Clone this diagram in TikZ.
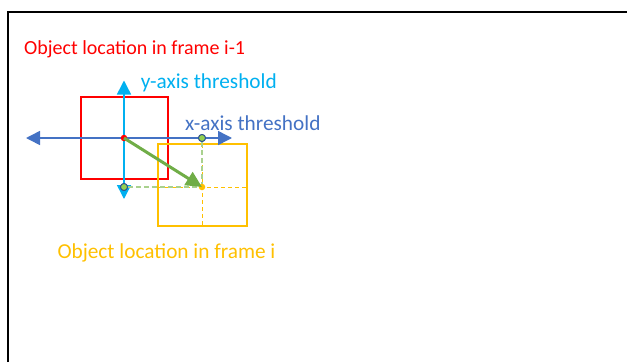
\documentclass[tikz,border=0pt]{standalone}
\usepackage{fontspec}
\setmainfont{Carlito}
\usetikzlibrary{arrows.meta}
\definecolor{offred}{HTML}{FF0000}
\definecolor{offorange}{HTML}{FFC000}
\definecolor{offcyan}{HTML}{00B0F0}
\definecolor{offblue}{HTML}{4472C4}
\definecolor{offgreen}{HTML}{70AD47}
\definecolor{lightgreen}{HTML}{A9D18E}
\definecolor{dotgreen}{HTML}{92D050}
\definecolor{dotedge}{HTML}{2F528F}
\tikzset{
  label text/.style={font=\fontsize{21.3}{24}\selectfont, inner sep=0pt, anchor=base west},
  axis arrow/.style={line width=1.5pt, {Triangle[length=14pt,width=14pt]}-{Triangle[length=14pt,width=14pt]}},
  midline/.style={line width=1pt, dash pattern=on 4pt off 3pt},
  green dot/.style={circle, draw=dotedge, fill=dotgreen, line width=0.9pt, minimum size=7pt, inner sep=0pt},
  plain dot/.style={circle, minimum size=6.5pt, inner sep=0pt},
}
\begin{document}
\begin{tikzpicture}[x=1pt,y=-1pt]
  \useasboundingbox (0,0) rectangle (627,362);
  % slide frame
  \draw[line width=2.5pt, black] (8,362) -- (8,12) -- (627,12);

  % previous and current bounding boxes
  \coordinate (pc) at (124,138);
  \coordinate (cc) at (202,187);
  \draw[offred, line width=2.6pt] (81,97) rectangle (168,179);
  \draw[offred, midline] (81,138) -- (168,138);
  \draw[offorange, line width=2.6pt] (158,144) rectangle (247,226);
  \draw[offorange, midline] (202,144) -- (202,226);
  \draw[offorange, midline] (158,187) -- (247,187);

  % threshold axes
  \coordinate (xl) at (26,138);
  \coordinate (xr) at (232,138);
  \coordinate (yt) at (124,80.5);
  \coordinate (yb) at (124,199);
  \draw[offblue, axis arrow] (xl) -- (xr);
  \draw[offcyan, axis arrow] (yt) -- (yb);

  % projections of the new centre onto the axes
  \node[green dot] (px) at (202,138) {};
  \node[green dot] (py) at (124,187) {};
  \draw[lightgreen, line width=1.5pt, dash pattern=on 5pt off 3pt] (px) -- (cc);
  \draw[lightgreen, line width=1.5pt, dash pattern=on 5pt off 3pt] (py) -- (cc);
  \node[green dot] at (px) {};
  \node[green dot] at (py) {};

  % displacement
  \node[plain dot, fill=offred] (pd) at (pc) {};
  \node[plain dot, fill=offorange] (cd) at (cc) {};
  \draw[offgreen, line width=3pt, -{Triangle[length=16pt,width=15pt]}] (pd.center) -- (cd.center);

  % labels
  \node[label text, text=offred, font=\fontsize{20}{24}\selectfont] (t1) at (24,54.3) {Object location in frame i-1};
  \node[label text, text=offcyan] (t2) at (140.7,88.7) {y-axis threshold};
  \node[label text, text=offblue] (t3) at (185,130) {x-axis threshold};
  \node[label text, text=offorange] (t4) at (57.3,258.3) {Object location in frame i};
\end{tikzpicture}
\end{document}
